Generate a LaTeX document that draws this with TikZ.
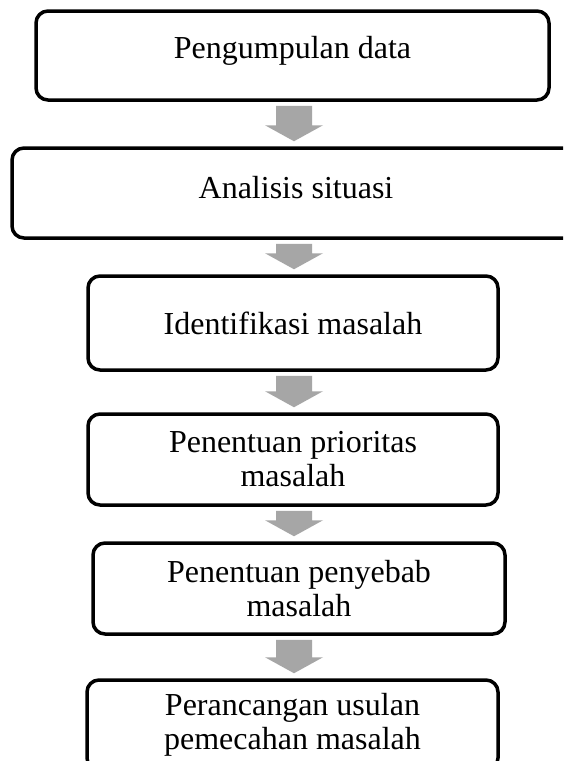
\documentclass[tikz,border=0pt]{standalone}
\usepackage{fontspec}
\setmainfont{Liberation Serif}
\usetikzlibrary{calc}

\definecolor{arrowgray}{HTML}{A6A6A6}

% grey block arrow from the bottom of one box to the top of the next
\newcommand{\grayarrow}[2]{%
  \fill[arrowgray] ($(#1.south -| ax)+(-18,-4)$) -- ($(#1.south -| ax)+(18,-4)$)
    -- ($(#2.north -| ax)+(18,21)$) -- ($(#2.north -| ax)+(29,21)$)
    -- ($(#2.north -| ax)+(0,5)$) -- ($(#2.north -| ax)+(-29,21)$)
    -- ($(#2.north -| ax)+(-18,21)$) -- cycle;}

\begin{document}
\begin{tikzpicture}[x=1pt, y=1pt,
    stepbox/.style={draw=black, line width=3.5pt, rounded corners=12pt, fill=white,
      align=center, inner sep=0pt, font=\fontsize{32}{34}\selectfont}]
    \clip (0, 0) rectangle (563, -761);
    \fill[white] (0, 0) rectangle (563, -761);
    \coordinate (ax) at (294, 0);

    %Nodes
    \node[stepbox, minimum width=513, minimum height=89, text depth=17pt] at (292.5, -55.5) (data) {Pengumpulan data};
    \node[stepbox, minimum width=568, minimum height=90, text depth=12pt] at (296, -193) (situasi) {Analisis situasi};
    \node[stepbox, minimum width=410, minimum height=94] at (293, -323) (identifikasi) {Identifikasi masalah};
    \node[stepbox, minimum width=410, minimum height=91] at (293, -459.5) (prioritas) {Penentuan prioritas\\masalah};
    \node[stepbox, minimum width=412, minimum height=91] at (299, -588.5) (penyebab) {Penentuan penyebab\\masalah};
    \node[stepbox, minimum width=411, minimum height=90] at (292.5, -725) (usulan) {Perancangan usulan\\pemecahan masalah};

    %Arrows
    \grayarrow{data}{situasi}
    \grayarrow{situasi}{identifikasi}
    \grayarrow{identifikasi}{prioritas}
    \grayarrow{prioritas}{penyebab}
    \grayarrow{penyebab}{usulan}

\end{tikzpicture}
\end{document}
